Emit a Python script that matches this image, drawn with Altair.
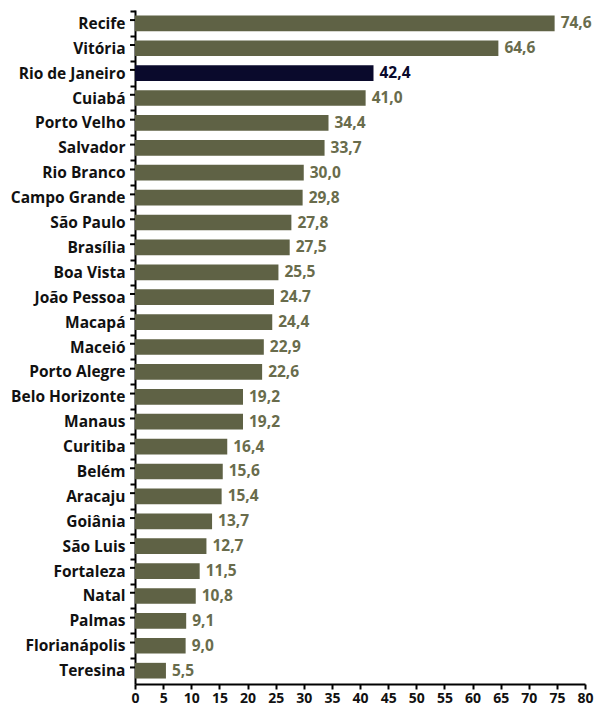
import altair as alt
import pandas as pd

cities = ["Recife", "Vitória", "Rio de Janeiro", "Cuiabá", "Porto Velho", "Salvador",
          "Rio Branco", "Campo Grande", "São Paulo", "Brasília", "Boa Vista",
          "João Pessoa", "Macapá", "Maceió", "Porto Alegre", "Belo Horizonte",
          "Manaus", "Curitiba", "Belém", "Aracaju", "Goiânia", "São Luis",
          "Fortaleza", "Natal", "Palmas", "Florianápolis", "Teresina"]
values = [74.6, 64.6, 42.4, 41.0, 34.4, 33.7, 30.0, 29.8, 27.8, 27.5, 25.5,
          24.7, 24.4, 22.9, 22.6, 19.2, 19.2, 16.4, 15.6, 15.4, 13.7, 12.7,
          11.5, 10.8, 9.1, 9.0, 5.5]
value_labels = ["74,6", "64,6", "42,4", "41,0", "34,4", "33,7", "30,0", "29,8",
                "27,8", "27,5", "25,5", "24.7", "24,4", "22,9", "22,6", "19,2",
                "19,2", "16,4", "15,6", "15,4", "13,7", "12,7", "11,5", "10,8",
                "9,1", "9,0", "5,5"]
highlight = "Rio de Janeiro"
x_ticks = list(range(0, 85, 5))

df = pd.DataFrame({"city": cities, "value": values, "label": value_labels})
df["hl"] = df["city"].apply(lambda c: "yes" if c == highlight else "no")

FONT = "Open Sans"
P_IN = 0.37
P_OUT = 0.22
PLOT_H = 674
STEP = PLOT_H / (len(cities) - P_IN + 2 * P_OUT)
HALF = STEP / 2
GAP_HALF = STEP * P_IN / 2

y_axis = alt.Axis(labelFont=FONT, labelFontSize=15.5, labelFontWeight="bold",
                  labelColor="#111111", labelPadding=5, ticks=True,
                  tickOffset=-HALF, labelOffset=HALF,
                  tickSize=5, tickWidth=2, tickColor="black",
                  domainColor="black", domainWidth=2)
x_axis = alt.Axis(values=x_ticks, labelFont=FONT, labelFontSize=14,
                  labelFontWeight="bold", labelColor="#111111",
                  labelOverlap=False, labelFlush=False,
                  tickSize=5, tickWidth=2, tickColor="black",
                  domainColor="black", domainWidth=2, grid=False,
                  labelPadding=2)
y_scale = alt.Scale(paddingInner=P_IN, paddingOuter=P_OUT)
x_scale = alt.Scale(domain=[0, 80], nice=False)

color_scale = alt.Scale(domain=["no", "yes"], range=["#5f6245", "#0a0a2c"])
text_scale = alt.Scale(domain=["no", "yes"], range=["#696c4c", "#0a0a2c"])

bars = alt.Chart(df).mark_bar().encode(
    y=alt.Y("city:N", sort=cities, title=None, scale=y_scale, axis=y_axis),
    x=alt.X("value:Q", title=None, scale=x_scale, axis=x_axis),
    color=alt.Color("hl:N", scale=color_scale, legend=None),
)
texts = alt.Chart(df).mark_text(align="left", baseline="middle", dx=6,
                                font=FONT, fontSize=15.5, fontWeight="bold").encode(
    y=alt.Y("city:N", sort=cities, title=None, scale=y_scale, axis=y_axis),
    x=alt.X("value:Q", title=None, scale=x_scale, axis=x_axis),
    text="label:N",
    color=alt.Color("hl:N", scale=text_scale, legend=None),
)
yticks = alt.Chart(df).mark_rule(color="black", strokeWidth=2).encode(
    y=alt.Y("city:N", sort=cities, title=None, scale=y_scale, axis=y_axis,
            bandPosition=1),
    yOffset=alt.value(GAP_HALF),
    x=alt.value(-5),
    x2=alt.value(0),
)

chart = alt.layer(bars, texts, yticks).properties(
    width=450, height=PLOT_H,
    autosize=alt.AutoSizeParams(type="none"),
    padding={"left": 127, "top": 2, "right": 16, "bottom": 22},
).configure_view(stroke=None).resolve_scale(color="independent")

chart.save("out.html", embed_options={"renderer": "svg", "actions": False})
